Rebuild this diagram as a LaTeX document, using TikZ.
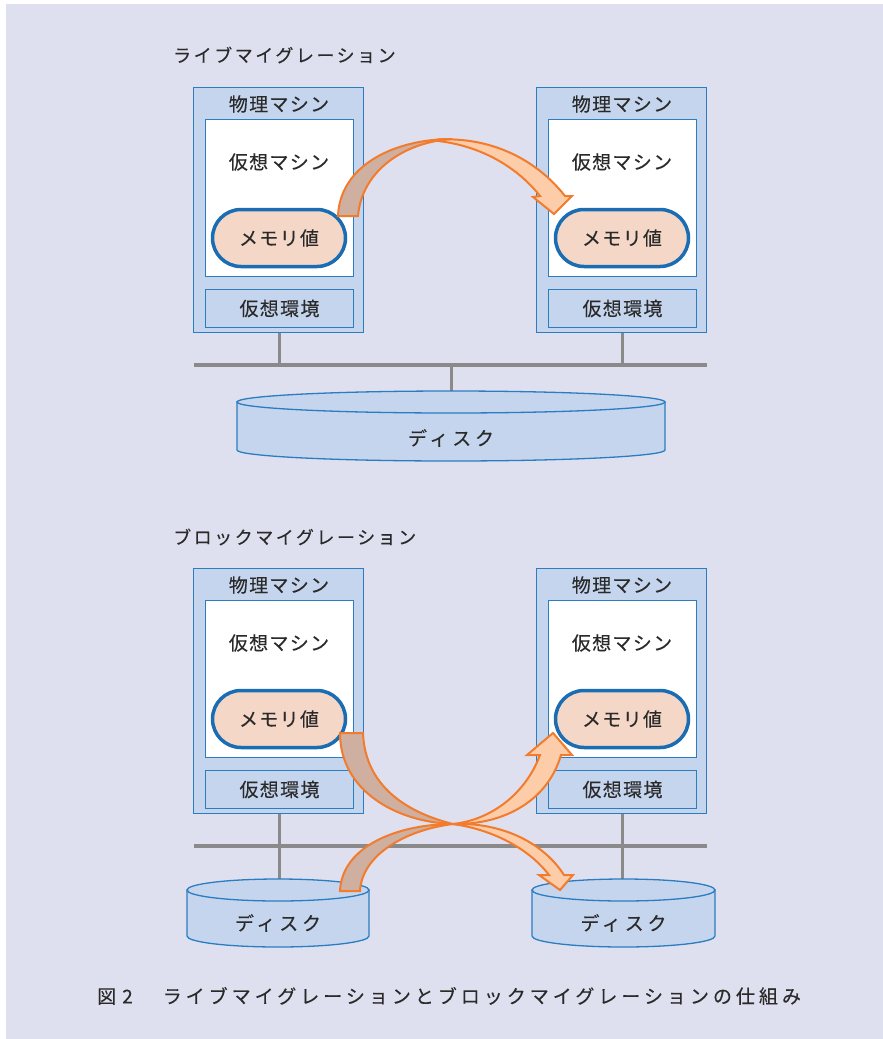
\documentclass[tikz,border=0pt]{standalone}
\usepackage{fontspec}
\setmainfont{Noto Sans CJK JP}
\newfontfamily\jpbox[LetterSpace=7,FakeBold=0.2]{Noto Sans CJK JP}
\newfontfamily\jpttl[LetterSpace=14,FakeBold=0.2]{Noto Sans CJK JP}
\newfontfamily\jpcap[LetterSpace=21,FakeBold=0.2]{Noto Sans CJK JP}
\newfontfamily\jpdsk[LetterSpace=20,FakeBold=0.2]{Noto Sans CJK JP}
\definecolor{bg}{HTML}{DFE0EF}
\definecolor{boxfill}{HTML}{C5D5ED}
\definecolor{boxline}{HTML}{2A7DC1}
\definecolor{pillline}{HTML}{1A6DB3}
\definecolor{pillfill}{HTML}{F5D7C7}
\definecolor{busgray}{HTML}{8A8A8A}
\definecolor{arrline}{HTML}{F27B2C}
\definecolor{arrdark}{HTML}{CFAF9F}
\definecolor{arrlight}{HTML}{FDCDA9}
\definecolor{txt}{HTML}{2A2A2A}
\tikzset{
  pmbox/.style={draw=boxline, fill=boxfill, line width=1.4pt, minimum width=170pt, minimum height=245pt, inner sep=0pt},
  vmbox/.style={draw=boxline, fill=white, line width=1.4pt, minimum width=148pt, minimum height=157pt, inner sep=0pt},
  envbox/.style={draw=boxline, fill=boxfill, line width=1.4pt, minimum width=148pt, minimum height=38pt, inner sep=0pt, text=txt, font=\jpbox\fontsize{19}{21}\selectfont},
  pill/.style={draw=pillline, fill=pillfill, line width=3.5pt, minimum width=133pt, minimum height=57pt, rounded corners=28.5pt, inner sep=0pt, text=txt, font=\jpbox\fontsize{19}{21}\selectfont},
  lbl/.style={text=txt, inner sep=0pt, font=\jpbox\fontsize{19}{21}\selectfont},
  dsklbl/.style={text=txt, inner sep=0pt, font=\jpdsk\fontsize{19}{21}\selectfont},
  ttl/.style={text=txt, inner sep=0pt, anchor=west, font=\jpttl\fontsize{18}{20}\selectfont},
  busline/.style={draw=busgray, line width=4pt},
  stub/.style={draw=busgray, line width=3pt},
  drumst/.style={draw=boxline, fill=boxfill, line width=1.3pt},
  adark/.style={draw=arrline, fill=arrdark, line width=2pt, line join=miter},
  alight/.style={draw=arrline, fill=arrlight, line width=2pt, line join=miter},
}
\newcommand\machine[3]{%
  \begin{scope}[shift={(#2,#3)}]
    \node[pmbox] (#1pm) at (278.5,210) {};
    \node[lbl] (#1pmt) at (279,104) {物理マシン};
    \node[vmbox] (#1vm) at (279.5,198) {};
    \node[lbl] (#1vmt) at (279,162) {仮想マシン};
    \node[pill] (#1mem) at (279,238) {メモリ値};
    \node[envbox] (#1env) at (279.5,308.5) {仮想環境};
  \end{scope}}
\newcommand\drum[4]{% cx, rx, ytop, ybot
  \path[drumst] (#1-#2,#3) -- (#1-#2,#4) arc[start angle=180, end angle=0, x radius=#2, y radius=11] -- (#1+#2,#3) -- cycle;
  \path[drumst] (#1,#3) ellipse[x radius=#2, y radius=11];}
\begin{document}
\begin{tikzpicture}[x=1pt,y=-1pt]
\useasboundingbox (0,0) rectangle (883,1039);
\fill[white] (0,0) rectangle (883,1039);
\fill[bg] (6,4) rectangle (883,1039);

% ---------- top: live migration ----------
\node[ttl] (t1) at (173,55) {ライブマイグレーション};
\coordinate (busA1) at (194,365);
\coordinate (busA2) at (707,365);
\coordinate (dskAtop) at (451,392);
\draw[stub] (279.5,330) -- (279.5,365);
\draw[stub] (622.5,330) -- (622.5,365);
\machine{A}{0}{0}
\machine{B}{343}{0}
\draw[busline] (busA1) -- (busA2);
\draw[stub] (dskAtop |- busA1) -- (dskAtop);
\drum{451}{214}{402}{450}
\node[dsklbl] (dskA) at (451,438) {ディスク};

% top arrow
\path[alight] (438,139.5) .. controls (490,137) and (535,158) .. (565,196)
  -- (572,196) -- (554,214) -- (533,197) -- (540,196)
  .. controls (518,168) and (482,146) .. (438,141) -- cycle;
\path[adark] (338,216) .. controls (340,165) and (395,139) .. (452,139)
  .. controls (405,142) and (362,170) .. (358,216) -- cycle;

% ---------- bottom: block migration ----------
\node[ttl] (t2) at (173,537) {ブロックマイグレーション};
\coordinate (busC1) at (194,846);
\coordinate (busC2) at (707,846);
\coordinate (dskCtop) at (279,880);
\coordinate (dskDtop) at (622.5,880);
\draw[stub] (dskCtop |- Apm.south) ++(0,481) -- (dskCtop);
\draw[stub] (dskDtop |- Bpm.south) ++(0,481) -- (dskDtop);
\machine{C}{0}{481}
\machine{D}{343}{481}
\draw[busline] (busC1) -- (busC2);
\drum{278}{91}{890}{936}
\node[dsklbl] (dskC) at (278,923) {ディスク};
\drum{623.5}{91.5}{890}{936}
\node[dsklbl] (dskD) at (623.5,923) {ディスク};

% arrow A: memory -> right disk
\path[alight] (453,824) .. controls (505,822) and (545,845) .. (564,875)
  -- (573,875) -- (560,890) -- (539,875) -- (549,875)
  .. controls (530,850) and (495,830) .. (453,824) -- cycle;
\path[adark] (340,733) .. controls (340,790) and (395,822) .. (453,824)
  .. controls (405,812) and (365,785) .. (363,733) -- cycle;
% arrow B: left disk -> right memory
\path[alight] (453,824) .. controls (505,825) and (548,800) .. (561,755)
  -- (572,755) -- (553,733) -- (527,755) -- (540,755)
  .. controls (525,795) and (490,820) .. (453,824) -- cycle;
\path[adark] (340,891) .. controls (342,845) and (400,824) .. (453,824)
  .. controls (405,830) and (362,855) .. (360,891) -- cycle;

% caption
\node[text=txt, inner sep=0pt, anchor=west, font=\jpcap\fontsize{19}{21}\selectfont] (cap) at (97,996) {図\hspace{6pt}2\hspace{30pt}ライブマイグレーションとブロックマイグレーションの仕組み};
\end{tikzpicture}
\end{document}
